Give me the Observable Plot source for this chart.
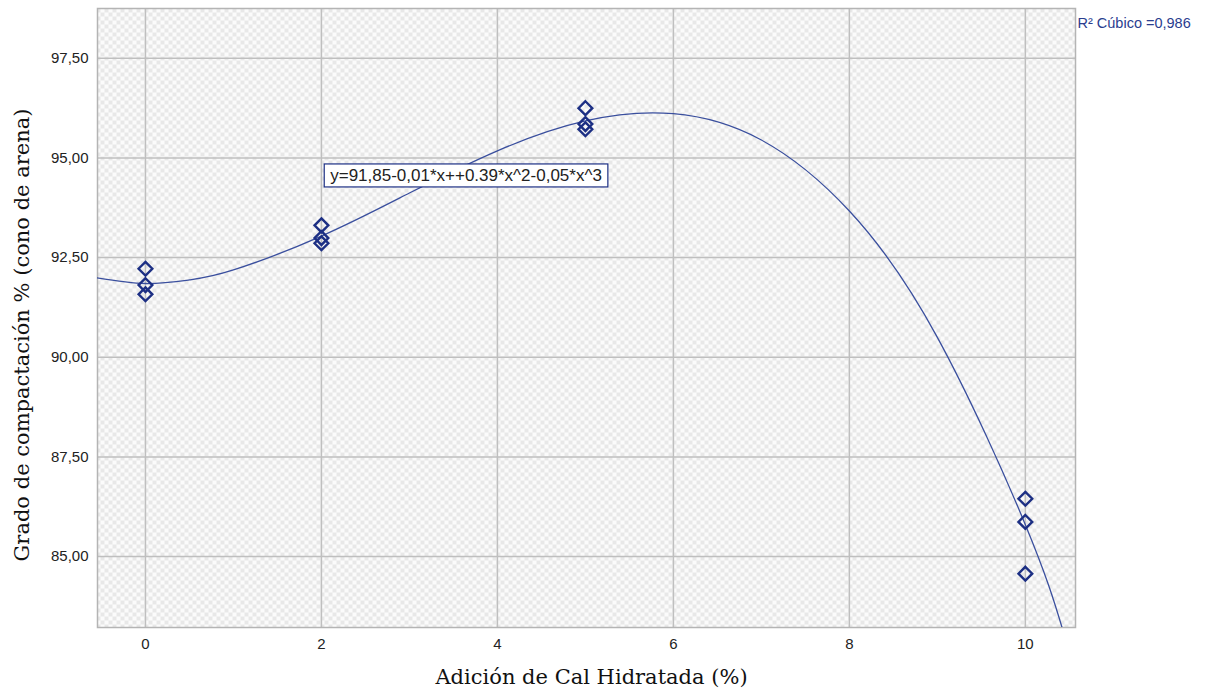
<!DOCTYPE html>
<html><head><meta charset="utf-8">
<script src="https://cdn.jsdelivr.net/npm/d3@7"></script>
<script src="https://cdn.jsdelivr.net/npm/@observablehq/plot@0.6"></script>
<style>body{margin:0;background:#fff;} #chart svg{display:block;}</style>
</head><body>
<svg width="0" height="0" style="position:absolute">
  <defs>
    <pattern id="chk" width="8" height="8" patternUnits="userSpaceOnUse">
      <rect width="8" height="8" fill="#fbfbfb"></rect>
      <rect width="4" height="4" fill="#e8e8e8"></rect>
      <rect x="4" y="4" width="4" height="4" fill="#e8e8e8"></rect>
    </pattern>
  </defs>
</svg>
<div id="chart"></div>
<script>
// Observed data
const cal = [0, 0, 0, 2, 2, 2, 5, 5, 5, 10, 10, 10];
const grado = [92.22, 91.81, 91.58, 93.31, 92.99, 92.86, 96.25, 95.85, 95.72, 86.45, 85.87, 84.57];
// Fitted cubic curve
const fitX = [-0.55, 0, 0.5, 1, 2, 3, 4, 5, 6, 7, 8, 9, 10, 10.42];
const fitY = [91.99, 91.85, 91.94, 92.19, 93.04, 94.12, 95.18, 95.93, 96.11, 95.45, 93.67, 90.5, 85.8, 83.2];
const xTicks = [0, 2, 4, 6, 8, 10];
const yTicks = [85, 87.5, 90, 92.5, 95, 97.5];
const xTitle = "Adición de Cal Hidratada (%)";
const yTitle = "Grado de compactación % (cono de arena)";
const eqLabel = "y=91,85-0,01*x++0.39*x^2-0,05*x^3";
const eqAt = [{x: 2.1, y: 94.56}];
const r2Label = "R² Cúbico =0,986";

const points = cal.map((x, i) => ({x, y: grado[i]}));
const curve = fitX.map((x, i) => ({x, y: fitY[i]}));
const navy = "#1c2f84";
const lineCol = "#3a4f9e";
const sans = "'Liberation Sans', Arial, sans-serif";
const serif = "'DejaVu Serif', serif";

const chart = Plot.plot({
  width: 1207, height: 698,
  marginLeft: 97, marginRight: 132, marginTop: 8, marginBottom: 71,
  style: {fontFamily: sans, fontSize: "15px", color: "#222", background: "#fff"},
  x: {domain: [-0.545, 10.57]},
  y: {domain: [83.22, 98.75]},
  marks: [
    Plot.frame({fill: "url(#chk)"}),
    Plot.gridX(xTicks, {stroke: "#bfbfbf", strokeOpacity: 1, strokeWidth: 1.5}),
    Plot.gridY(yTicks, {stroke: "#bfbfbf", strokeOpacity: 1, strokeWidth: 1.5}),
    Plot.frame({stroke: "#b4b4b4", strokeWidth: 1.5}),
    Plot.axisX(xTicks, {tickSize: 0, tickPadding: 11, label: null, fontSize: 15, tickFormat: d => String(d)}),
    Plot.axisY(yTicks, {tickSize: 0, tickPadding: 9, label: null, fontSize: 15, tickFormat: d => d.toFixed(2).replace(".", ",")}),
    Plot.line(curve, {x: "x", y: "y", curve: "natural", stroke: lineCol, strokeWidth: 1.3, clip: true}),
    Plot.dot(points, {x: "x", y: "y", symbol: "diamond2", r: 6.2, stroke: navy, strokeWidth: 2.4, fill: "none"}),
    Plot.text(eqAt, {x: "x", y: "y", text: () => eqLabel, textAnchor: "start", fontSize: 17, fill: "#222", className: "eqlabel"}),
    Plot.text([r2Label], {frameAnchor: "top-right", textAnchor: "start", dx: 2, dy: 9, fontSize: 14.5, fill: "#2a3d8f"}),
    Plot.text([xTitle], {frameAnchor: "bottom", dx: 5, dy: 56, fontSize: 21, fontFamily: serif, fill: "#111"}),
    Plot.text([yTitle], {frameAnchor: "left", textAnchor: "middle", rotate: -90, dx: -75, dy: 17, fontSize: 21, fontFamily: serif, fill: "#111"})
  ]
});
document.getElementById("chart").appendChild(chart);

// draw the box around the equation label, sized from the rendered text
const eqG = chart.querySelector("g.eqlabel");
if (eqG) {
  const t = eqG.querySelector("text");
  const b = t.getBBox();
  const ns = "http://www.w3.org/2000/svg";
  const rect = document.createElementNS(ns, "rect");
  rect.setAttribute("x", b.x - 6);
  rect.setAttribute("y", b.y - 2);
  rect.setAttribute("width", b.width + 12);
  rect.setAttribute("height", b.height + 4);
  rect.setAttribute("fill", "#fff");
  rect.setAttribute("stroke", navy);
  rect.setAttribute("stroke-width", 1.2);
  if (t.getAttribute("transform")) rect.setAttribute("transform", t.getAttribute("transform"));
  t.parentNode.insertBefore(rect, t);
}
</script>
</body></html>
